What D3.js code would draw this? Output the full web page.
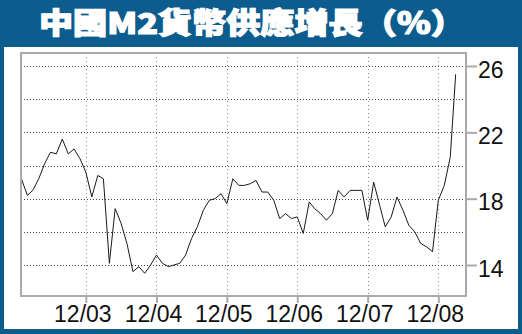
<!DOCTYPE html>
<html>
<head>
<meta charset="utf-8">
<script src="https://cdn.jsdelivr.net/npm/d3@7"></script>
<style>
	body { margin: 0; background: #0d5c8e; }
	svg { display: block; }
</style>
</head>
<body>
<svg id="chart"></svg>
<script>
var width = 522;
var height = 334;

var blue = "#0d5c8e";
var frameGrey = "#aaaaaa";

var title = "中國M2貨幣供應增長（％）";

// monthly M2 growth, Jan 2003 -> Mar 2009
var startYear = 2003;
var m2_2003 = [19.2, 18.2, 18.5, 19.2, 20.1, 20.8, 20.7, 21.6, 20.7, 21.0, 20.4, 19.6];
var m2_2004 = [18.1, 19.4, 19.2, 14.1, 17.4, 16.5, 15.3, 13.6, 13.9, 13.5, 14.0, 14.6];
var m2_2005 = [14.1, 13.9, 14.0, 14.1, 14.6, 15.6, 16.3, 17.3, 17.9, 18.0, 18.3, 17.7];
var m2_2006 = [19.2, 18.8, 18.8, 18.9, 19.1, 18.4, 18.4, 17.9, 16.8, 17.1, 16.8, 16.9];
var m2_2007 = [15.9, 17.8, 17.4, 17.1, 16.7, 17.1, 18.5, 18.1, 18.5, 18.5, 18.5, 16.7];
var m2_2008 = [19.0, 17.6, 16.3, 16.9, 18.1, 17.3, 16.4, 16.0, 15.3, 15.1, 14.8, 17.9];
var m2_2009 = [18.8, 20.5, 25.5];

var yTicks = [14, 18, 22, 26];
var yGrid = [14, 16, 18, 20, 22, 24, 26];
var xTicks = ["2003-12", "2004-12", "2005-12", "2006-12", "2007-12", "2008-12"];

var series = [m2_2003, m2_2004, m2_2005, m2_2006, m2_2007, m2_2008, m2_2009];
var data = [];
series.forEach(function(yr, i) {
	yr.forEach(function(v, m) {
		data.push([new Date(startYear + i, m, 1), v]);
	});
});

var parseMonth = d3.timeParse("%Y-%m");
var formatMonth = d3.timeFormat("%m/%y");

// plot box
var plot = { left: 21, right: 466, top: 53, bottom: 296 };

var svg = d3.select("#chart")
	.attr("width", width)
	.attr("height", height);

// Frame ======================================================================

svg.append("rect")
	.attr("width", width)
	.attr("height", height)
	.attr("fill", blue);

svg.append("rect")
	.attr("x", 4)
	.attr("y", 47)
	.attr("width", width - 8)
	.attr("height", 282)
	.attr("fill", "white");

svg.append("text")
	.attr("x", 39)
	.attr("y", 34)
	.attr("textLength", 426)
	.attr("lengthAdjust", "spacingAndGlyphs")
	.attr("font-family", "'Noto Sans CJK TC', 'Noto Sans CJK SC', sans-serif")
	.attr("font-weight", 900)
	.attr("font-size", 29)
	.attr("fill", "white")
	.attr("stroke", "white")
	.attr("stroke-width", 1.2)
	.text(title);

// Scales =====================================================================

var xScale = d3.scaleTime()
	.domain([new Date(2003, 0, 1), new Date(2008, 11, 1)])
	.range([21.4, 438.3]);

var yScale = d3.scaleLinear()
	.domain([14, 26])
	.range([265, 66]);

// Grid =======================================================================

svg.append("g")
	.attr("class", "x-grid")
	.selectAll("line")
	.data(xTicks.map(parseMonth))
	.enter()
	.append("line")
	.attr("x1", function(d) { return Math.round(xScale(d)) + 0.5 })
	.attr("x2", function(d) { return Math.round(xScale(d)) + 0.5 })
	.attr("y1", plot.top)
	.attr("y2", plot.bottom)
	.attr("stroke", "#8a8a8a")
	.attr("stroke-width", 1)
	.attr("stroke-dasharray", "1,3");

svg.append("g")
	.attr("class", "y-grid")
	.selectAll("line")
	.data(yGrid)
	.enter()
	.append("line")
	.attr("x1", plot.left)
	.attr("x2", plot.right)
	.attr("y1", function(d) { return Math.round(yScale(d)) + 0.5 })
	.attr("y2", function(d) { return Math.round(yScale(d)) + 0.5 })
	.attr("stroke", "#444")
	.attr("stroke-width", 1)
	.attr("stroke-dasharray", "1,2");

// Line =======================================================================

var m2Line = d3.line()
	.x(function(d) { return xScale(d[0]) })
	.y(function(d) { return yScale(d[1]) });

svg.append("path")
	.datum(data)
	.attr("d", m2Line)
	.attr("fill", "none")
	.attr("stroke", "#1a1a1a")
	.attr("stroke-width", 1)
	.attr("stroke-linejoin", "miter");

// plot border
svg.append("rect")
	.attr("x", plot.left)
	.attr("y", plot.top)
	.attr("width", plot.right - plot.left)
	.attr("height", plot.bottom - plot.top)
	.attr("fill", "none")
	.attr("stroke", frameGrey)
	.attr("stroke-width", 2);

// Axes =======================================================================

var yAxis = d3.axisRight(yScale)
	.tickValues(yTicks)
	.tickSize(10)
	.tickPadding(1);

svg.append("g")
	.attr("class", "y-axis")
	.attr("transform", "translate(" + (plot.right + 1) + ",0)")
	.call(yAxis)
	.call(function(g) {
		g.select(".domain").remove();
		g.selectAll(".tick line")
			.attr("stroke", frameGrey)
			.attr("stroke-width", 2);
		g.selectAll(".tick text")
			.attr("dy", 11)
			.attr("font-family", "'Liberation Sans', Arial, sans-serif")
			.attr("font-size", 23)
			.attr("fill", "#111");
	});

var xAxis = d3.axisBottom(xScale)
	.tickValues(xTicks.map(parseMonth))
	.tickFormat(formatMonth)
	.tickSize(6);

svg.append("g")
	.attr("class", "x-axis")
	.attr("transform", "translate(0," + (plot.bottom + 1) + ")")
	.call(xAxis)
	.call(function(g) {
		g.select(".domain").remove();
		g.selectAll(".tick line")
			.attr("stroke", frameGrey)
			.attr("stroke-width", 2);
		g.selectAll(".tick text")
			.attr("y", 25)
			.attr("dy", 0)
			.attr("x", -3.5)
			.attr("font-family", "'Liberation Sans', Arial, sans-serif")
			.attr("font-size", 23)
			.attr("fill", "#111");
	});
</script>
</body>
</html>
